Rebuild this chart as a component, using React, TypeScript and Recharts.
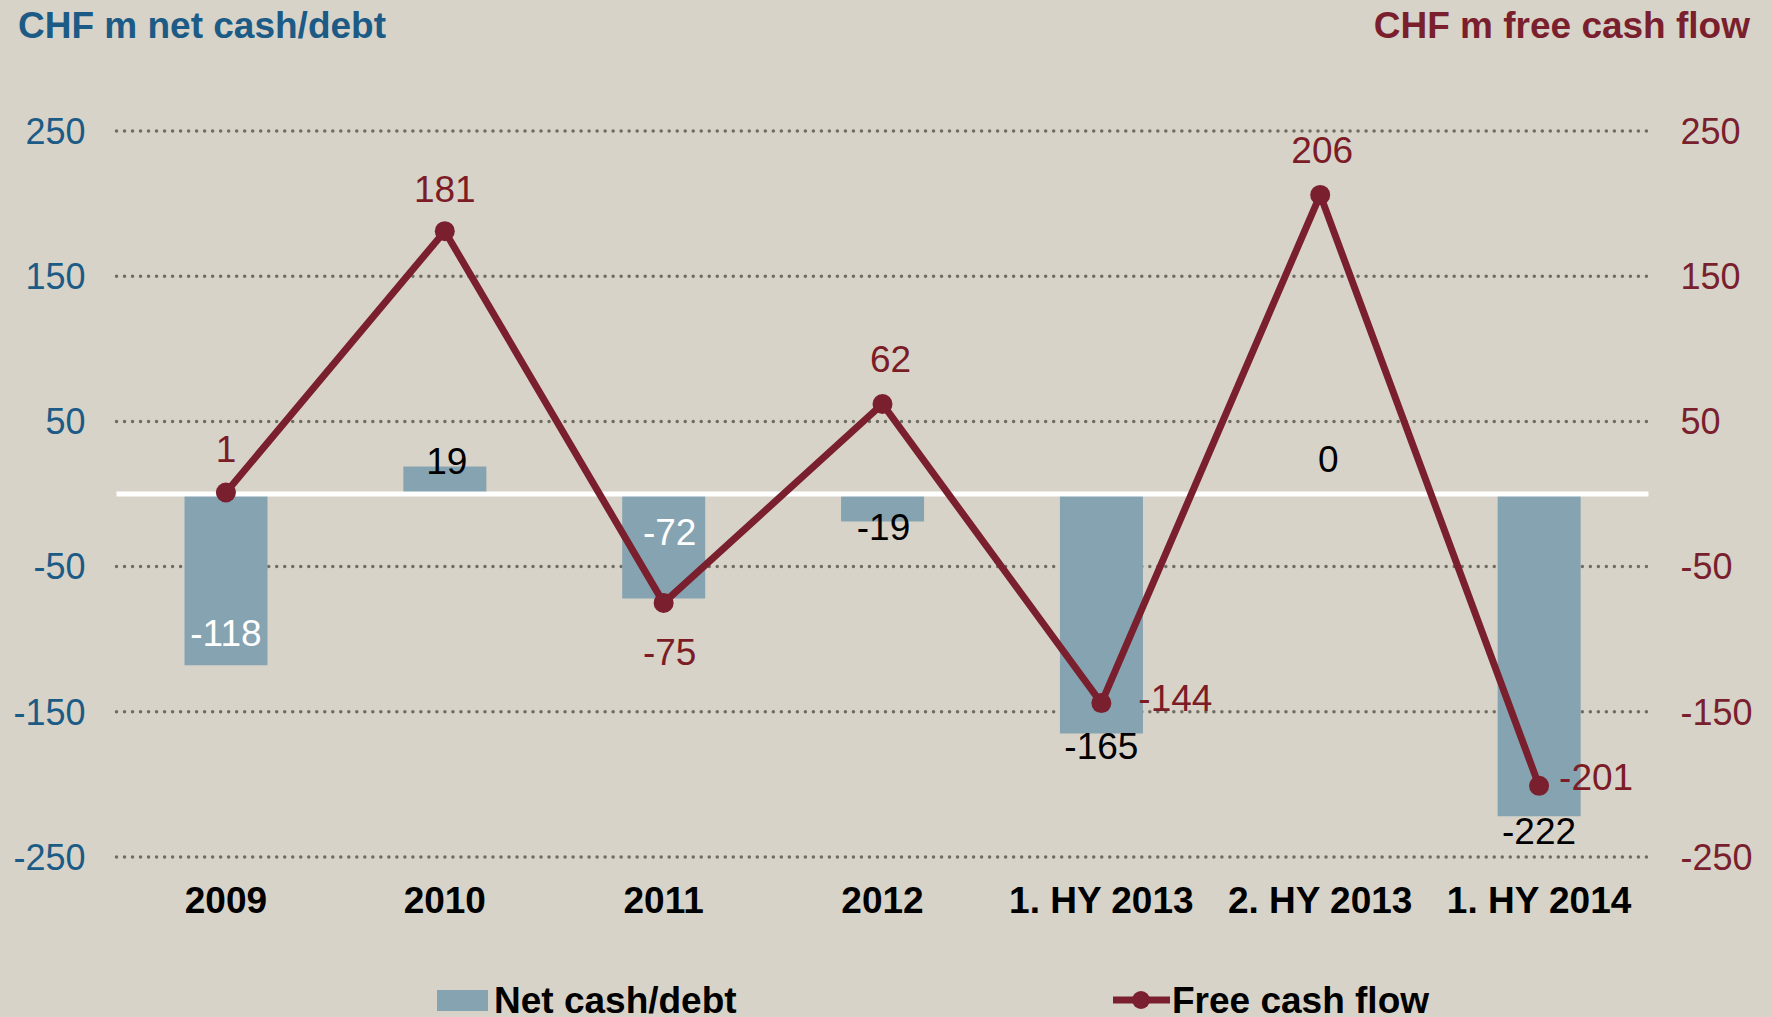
import React from 'react';
import { ComposedChart, Bar, Line, XAxis, YAxis, CartesianGrid, ReferenceLine, LabelList, Legend } from 'recharts';

// Data
const categories = ['2009', '2010', '2011', '2012', '1. HY 2013', '2. HY 2013', '1. HY 2014'];
const netCash = [-118, 19, -72, -19, -165, 0, -222];
const freeCashFlow = [1, 181, -75, 62, -144, 206, -201];
const axisTicks = [-250, -150, -50, 50, 150, 250];

const data = categories.map((name, i) => ({ name, net: netCash[i], fcf: freeCashFlow[i] }));

// Colours / fonts
const BG = '#D8D3C8';
const BAR = '#85A3B1';
const LINE = '#7A1F2E';
const MAROON = '#7B1C26';
const BLUE = '#1B5B86';
const GRID = '#6E6C63';
const FONT = '"Liberation Sans", Arial, sans-serif';

// label placement (offsets from bar end / dot centre)
const barLabelStyle = [
  { dx: 0, dy: -32, color: '#fff' },
  { dx: 2, dy: -5, color: '#000' },
  { dx: 6, dy: -66, color: '#fff' },
  { dx: 1, dy: 5, color: '#000' },
  { dx: 0, dy: 12, color: '#000' },
  { dx: 8, dy: -35, color: '#000' },
  { dx: 0, dy: 15, color: '#000' },
];
const lineLabelStyle = [
  { dx: 0, dy: -43, anchor: 'middle' },
  { dx: 0, dy: -42, anchor: 'middle' },
  { dx: 6, dy: 49, anchor: 'middle' },
  { dx: 8, dy: -45, anchor: 'middle' },
  { dx: 37, dy: -5, anchor: 'start' },
  { dx: 2, dy: -45, anchor: 'middle' },
  { dx: 20, dy: -9, anchor: 'start' },
];

// bar labels are hung on an invisible line over the bars, so the zero bar gets one too
const BarLabel = (props: any) => {
  const { x, y, value } = props;
  const idx = netCash.indexOf(value);
  const s = barLabelStyle[idx] || { dx: 0, dy: 0, color: '#000' };
  return (
    <text x={x + s.dx} y={y + s.dy} dy="0.35em" textAnchor="middle" fill={s.color}
      fontSize={37} fontFamily={FONT}>
      {value}
    </text>
  );
};

const LineLabel = (props: any) => {
  const { x, y, value } = props;
  const idx = freeCashFlow.indexOf(value);
  const s = lineLabelStyle[idx] || { dx: 0, dy: -40, anchor: 'middle' };
  return (
    <text x={x + s.dx} y={y + s.dy} dy="0.35em" textAnchor={s.anchor} fill={MAROON}
      fontSize={37} fontFamily={FONT}>
      {value}
    </text>
  );
};

const renderLegend = () => (
  <svg width={1772} height={57} style={{ display: 'block' }}>
    <rect x={437} y={30} width={51} height={21} fill={BAR} />
    <text x={494} y={53} fontSize={37} fontWeight="bold" fontFamily={FONT} fill="#000">Net cash/debt</text>
    <line x1={1113} x2={1170} y1={40} y2={40} stroke={LINE} strokeWidth={7} />
    <circle cx={1141} cy={40} r={9} fill={LINE} />
    <text x={1172} y={53} fontSize={37} fontWeight="bold" fontFamily={FONT} fill="#000">Free cash flow</text>
  </svg>
);

const App: React.FC = () => {
  return (
    <div style={{ position: 'absolute', left: 0, top: 0, width: 1772, height: 1017, background: BG, fontFamily: FONT, overflow: 'hidden' }}>
      <div style={{ position: 'absolute', left: 18, top: 7, fontSize: 37, lineHeight: '37px', fontWeight: 'bold', color: BLUE }}>
        CHF m net cash/debt
      </div>
      <div style={{ position: 'absolute', right: 22, top: 7, fontSize: 37, lineHeight: '37px', fontWeight: 'bold', color: LINE }}>
        CHF m free cash flow
      </div>
      <ComposedChart width={1772} height={1017} data={data} margin={{ top: 131, right: 0, bottom: 0, left: 0 }}>
        <CartesianGrid yAxisId="left" vertical={false} stroke={GRID} strokeWidth={3.5}
          strokeDasharray="0.01 8" strokeLinecap="round" />
        <XAxis dataKey="name" axisLine={false} tickLine={false} tickSize={0} tickMargin={30} height={160}
          interval={0} tick={{ fill: '#000', fontSize: 37, fontWeight: 'bold', fontFamily: FONT }} />
        <YAxis yAxisId="left" orientation="left" type="number" width={116.5} domain={[-250, 250]} ticks={axisTicks}
          axisLine={false} tickLine={false} tickSize={0} tickMargin={31}
          tick={{ fill: BLUE, fontSize: 36, fontFamily: FONT }} />
        <YAxis yAxisId="right" orientation="right" type="number" width={123.5} domain={[-250, 250]} ticks={axisTicks}
          axisLine={false} tickLine={false} tickSize={0} tickMargin={32}
          tick={{ fill: LINE, fontSize: 36, fontFamily: FONT }} />
        <Bar yAxisId="left" dataKey="net" fill={BAR} barSize={83} isAnimationActive={false} />
        <Line yAxisId="left" dataKey="net" stroke="none" dot={false} activeDot={false} legendType="none"
          isAnimationActive={false}>
          <LabelList dataKey="net" content={BarLabel} />
        </Line>
        <ReferenceLine yAxisId="left" y={0} stroke="#fff" strokeWidth={5} />
        <Line yAxisId="right" type="linear" dataKey="fcf" stroke={LINE} strokeWidth={7}
          dot={{ r: 10, fill: LINE, stroke: 'none' }} activeDot={false} isAnimationActive={false}>
          <LabelList dataKey="fcf" content={LineLabel} />
        </Line>
        <Legend layout="horizontal" verticalAlign="middle" align="center" content={renderLegend}
          wrapperStyle={{ position: 'absolute', left: 0, top: 960, width: 1772, height: 57 }} />
      </ComposedChart>
    </div>
  );
};

export default App;
